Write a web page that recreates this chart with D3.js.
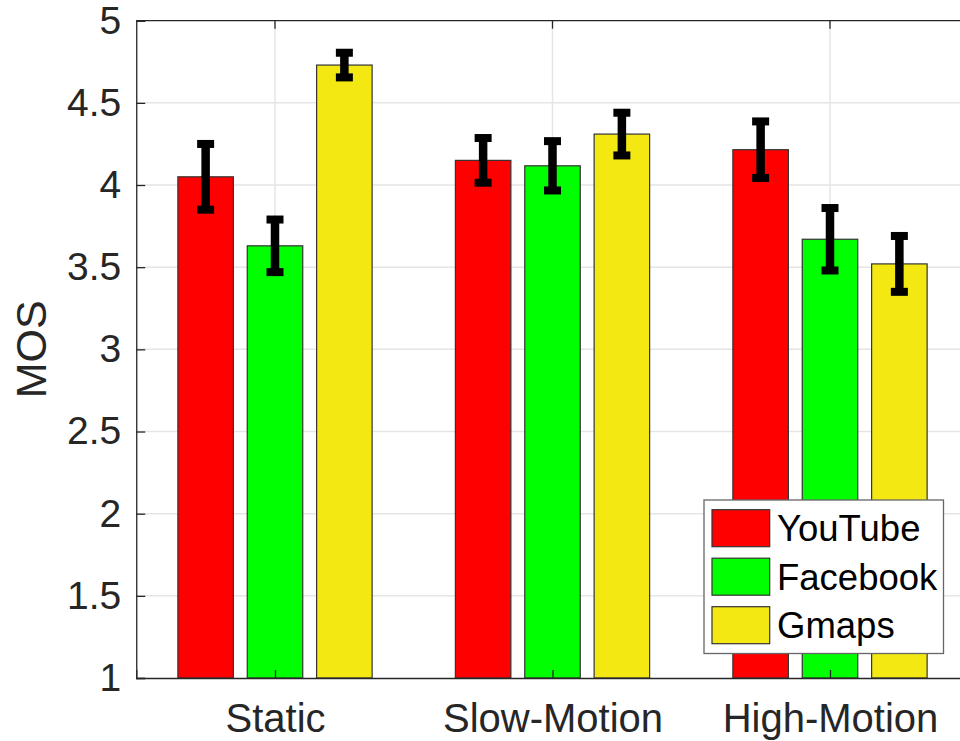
<!DOCTYPE html>
<html>
<head>
<meta charset="UTF-8">
<style>
  body { margin: 0; background: #fff; }
  svg { display: block; font-family: Arial, "Liberation Sans", sans-serif; }
</style>
</head>
<body>
<svg></svg>
<script src="https://d3js.org/d3.v7.min.js"></script>
<script>
// data
const categories = ["Static", "Slow-Motion", "High-Motion"];
const seriesNames = ["YouTube", "Facebook", "Gmaps"];
const youtube = [4.05, 4.15, 4.215];
const facebook = [3.63, 4.117, 3.67];
const gmaps = [4.73, 4.31, 3.52];
const youtubeErr = [0.2, 0.136, 0.172];
const facebookErr = [0.16, 0.15, 0.19];
const gmapsErr = [0.075, 0.13, 0.17];
const yTicks = [1, 1.5, 2, 2.5, 3, 3.5, 4, 4.5, 5];

const colors = ["#ff0000", "#00ff00", "#f4e813"];
const values = [youtube, facebook, gmaps];
const errs = [youtubeErr, facebookErr, gmapsErr];

let width = 960, height = 741;
let svg = d3.select("svg").attr("width", width).attr("height", height);

// axes box (right side runs off the picture like in the original)
let plot = { left: 136.25, right: 968.75, top: 20.7, bottom: 678 };

let x = d3.scaleLinear().domain([0.5, 3.5]).range([plot.left, plot.right]);
let y = d3.scaleLinear().domain([1, 5]).range([plot.bottom, plot.top]);

let barW = 0.2, offset = 0.25;
let axisColor = "#262626";

// grid
let grid = svg.append("g");
grid.selectAll("line.h")
    .data(yTicks.slice(1, -1))
    .enter().append("line")
    .attr("x1", plot.left).attr("x2", plot.right)
    .attr("y1", d => y(d)).attr("y2", d => y(d))
    .attr("stroke", "#e5e5e5").attr("stroke-width", 1.5);
grid.selectAll("line.v")
    .data(categories)
    .enter().append("line")
    .attr("x1", (d, i) => x(i + 1)).attr("x2", (d, i) => x(i + 1))
    .attr("y1", plot.top).attr("y2", plot.bottom)
    .attr("stroke", "#e5e5e5").attr("stroke-width", 1.5);

// bars
let rows = [];
categories.forEach((c, i) => {
    seriesNames.forEach((s, j) => {
        rows.push({ cat: i + 1, s: j, v: values[j][i], e: errs[j][i] });
    });
});

svg.append("g").selectAll("rect")
    .data(rows)
    .enter().append("rect")
    .attr("x", d => x(d.cat + (d.s - 1) * offset - barW / 2))
    .attr("width", d => x(barW) - x(0))
    .attr("y", d => y(d.v))
    .attr("height", d => y(1) - y(d.v))
    .attr("fill", d => colors[d.s])
    .attr("stroke", "#333")
    .attr("stroke-width", 1.2);

// error bars
let eb = svg.append("g").attr("fill", "#000");
let capW = 17, capH = 8, stemW = 8.5;
eb.selectAll("rect.stem")
    .data(rows)
    .enter().append("rect")
    .attr("x", d => x(d.cat + (d.s - 1) * offset) - stemW / 2)
    .attr("width", stemW)
    .attr("y", d => y(d.v + d.e))
    .attr("height", d => y(d.v - d.e) - y(d.v + d.e));
eb.selectAll("rect.capTop")
    .data(rows)
    .enter().append("rect")
    .attr("x", d => x(d.cat + (d.s - 1) * offset) - capW / 2)
    .attr("width", capW)
    .attr("y", d => y(d.v + d.e) - capH / 2)
    .attr("height", capH);
eb.selectAll("rect.capBot")
    .data(rows)
    .enter().append("rect")
    .attr("x", d => x(d.cat + (d.s - 1) * offset) - capW / 2)
    .attr("width", capW)
    .attr("y", d => y(d.v - d.e) - capH / 2)
    .attr("height", capH);

// axes
let yAxis = d3.axisLeft(y).tickValues(yTicks).tickSize(-9).tickPadding(15)
    .tickFormat(d3.format("~g"));
let gy = svg.append("g").attr("transform", `translate(${plot.left},0)`).call(yAxis);
gy.select(".domain").attr("stroke", axisColor).attr("stroke-width", 1.3);
gy.selectAll(".tick line").attr("stroke", axisColor).attr("stroke-width", 1.3);
gy.selectAll(".tick text").attr("fill", axisColor).attr("font-size", 39)
    .attr("font-family", "Arial, 'Liberation Sans', sans-serif");

let xAxis = d3.axisBottom(x).tickValues([1, 2, 3]).tickSize(-8).tickPadding(26)
    .tickFormat(d => categories[d - 1]);
let gx = svg.append("g").attr("transform", `translate(0,${plot.bottom})`).call(xAxis);
gx.select(".domain").attr("stroke", axisColor).attr("stroke-width", 1.3);
gx.selectAll(".tick line").attr("stroke", axisColor).attr("stroke-width", 1.3);
gx.selectAll(".tick text").attr("fill", axisColor).attr("font-size", 40)
    .attr("font-family", "Arial, 'Liberation Sans', sans-serif");

// top border with ticks
svg.append("line")
    .attr("x1", plot.left).attr("x2", plot.right)
    .attr("y1", plot.top).attr("y2", plot.top)
    .attr("stroke", axisColor).attr("stroke-width", 1.3);
svg.append("g").selectAll("line")
    .data([1, 2, 3])
    .enter().append("line")
    .attr("x1", d => x(d)).attr("x2", d => x(d))
    .attr("y1", plot.top).attr("y2", plot.top + 8)
    .attr("stroke", axisColor).attr("stroke-width", 1.3);

// y label
svg.append("text")
    .attr("transform", `translate(46,${(plot.top + plot.bottom) / 2}) rotate(-90)`)
    .attr("text-anchor", "middle")
    .attr("font-size", 43)
    .attr("fill", axisColor)
    .text("MOS");

// legend
let lg = svg.append("g").attr("transform", "translate(704,500)");
lg.append("rect")
    .attr("width", 239.5).attr("height", 153.5)
    .attr("fill", "#fff").attr("stroke", "#666").attr("stroke-width", 1.3);
let items = lg.selectAll("g.item")
    .data(seriesNames)
    .enter().append("g")
    .attr("transform", (d, i) => `translate(8,${9.7 + i * 48.5})`);
items.append("rect")
    .attr("width", 57.7).attr("height", 37)
    .attr("fill", (d, i) => colors[i])
    .attr("stroke", "#333").attr("stroke-width", 1.2);
items.append("text")
    .attr("x", 65).attr("y", 31.5)
    .attr("font-size", 36.5)
    .attr("fill", "#000")
    .text(d => d);
</script>
</body>
</html>
